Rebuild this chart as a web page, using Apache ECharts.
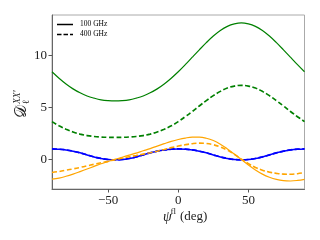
<!DOCTYPE html>
<html><head><meta charset="utf-8">
<script src="https://cdn.jsdelivr.net/npm/echarts@6/dist/echarts.min.js"></script>
<style>html,body{margin:0;padding:0;background:#fff}#c{width:320px;height:240px}</style>
</head><body><div id="c"></div>
<script>
const psi = [-90,-85,-80,-75,-70,-65,-60,-55,-50,-45,-40,-35,-30,-25,-20,-15,-10,-5,0,5,10,15,20,25,30,35,40,45,50,55,60,65,70,75,80,85,90];
const green100 = [8.4,7.78,7.23,6.76,6.38,6.08,5.87,5.71,5.63,5.6,5.63,5.71,5.87,6.08,6.38,6.76,7.23,7.78,8.4,9.08,9.8,10.51,11.2,11.83,12.36,12.76,13.0,13.1,13.0,12.76,12.36,11.83,11.2,10.51,9.8,9.08,8.4];
const green400 = [3.62,3.21,2.88,2.62,2.42,2.28,2.19,2.14,2.11,2.1,2.11,2.14,2.19,2.28,2.42,2.62,2.88,3.21,3.62,4.09,4.59,5.12,5.63,6.11,6.52,6.84,7.03,7.1,7.03,6.84,6.52,6.11,5.63,5.12,4.59,4.09,3.62];
const blue100 = [1.0,0.97,0.9,0.78,0.62,0.42,0.23,0.08,-0.02,-0.05,-0.02,0.08,0.23,0.42,0.62,0.78,0.9,0.97,1.0,0.97,0.9,0.78,0.62,0.42,0.23,0.08,-0.02,-0.05,-0.02,0.08,0.23,0.42,0.62,0.78,0.9,0.97,1.0];
const blue400 = [1.0,0.97,0.9,0.78,0.62,0.42,0.23,0.08,-0.02,-0.05,-0.02,0.08,0.23,0.42,0.62,0.78,0.9,0.97,1.0,0.97,0.9,0.78,0.62,0.42,0.23,0.08,-0.02,-0.05,-0.02,0.08,0.23,0.42,0.62,0.78,0.9,0.97,1.0];
const orange100 = [-1.9,-1.8,-1.63,-1.42,-1.18,-0.93,-0.68,-0.43,-0.22,0.0,0.2,0.4,0.6,0.82,1.03,1.27,1.5,1.72,1.9,2.04,2.12,2.12,2.02,1.8,1.45,1.0,0.5,-0.02,-0.55,-1.02,-1.42,-1.72,-1.93,-2.05,-2.08,-2.03,-1.92];
const orange400 = [-1.26,-1.17,-1.05,-0.92,-0.78,-0.63,-0.48,-0.33,-0.18,-0.03,0.1,0.24,0.37,0.5,0.63,0.78,0.95,1.12,1.27,1.4,1.5,1.55,1.52,1.4,1.18,0.88,0.48,0.02,-0.42,-0.78,-1.05,-1.23,-1.35,-1.42,-1.43,-1.38,-1.28];
const xTicks = [-50,0,50];
const yTicks = [0,5,10];
const legendNames = ['100 GHz','400 GHz'];

const SERIF = 'Liberation Serif';
function pts(arr){ return psi.map((p,i)=>[p,arr[i]]); }
function line(name, arr, color, dashed, width, z){
  return {type:'line', name:name, data:pts(arr), symbol:'none', showSymbol:false, smooth:0.4,
    silent:true, z:z, lineStyle:{color:color, width:width, type: dashed ? [5,2.5] : 'solid'}};
}
const chart = echarts.init(document.getElementById('c'), null, {renderer:'canvas'});
const fmt = v => String(v).replace('-', '\u2212');
chart.setOption({
  animation:false,
  backgroundColor:'#fff',
  grid:{left:52, right:15.5, top:15, bottom:51, show:true, borderColor:'#aaa', borderWidth:1, backgroundColor:'transparent'},
  legend:{
    data:[
      {name:legendNames[0], icon:'path://M0,0H16V1.5H0Z'},
      {name:legendNames[1], icon:'path://M0,0H4.5V1.5H0Z M6.5,0H11V1.5H6.5Z M13,0H16V1.5H13Z'}
    ],
    left:57, top:20.5, orient:'vertical', itemWidth:16, itemHeight:1.5, itemGap:2, padding:0,
    itemStyle:{color:'#000'},
    textStyle:{fontFamily:SERIF, fontSize:7.5, color:'#000', padding:[0,0,0,2]}},
  xAxis:{type:'value', min:-90, max:90,
    axisLine:{show:true, onZero:false, lineStyle:{color:'#666', width:1}},
    axisTick:{show:true, length:3.5, inside:false, customValues:xTicks, lineStyle:{color:'#555'}},
    axisLabel:{customValues:xTicks, margin:5, formatter:fmt, fontFamily:SERIF, fontSize:13, color:'#222'},
    splitLine:{show:false}},
  yAxis:{type:'value', min:-2.85, max:13.85,
    axisLine:{show:true, onZero:false, lineStyle:{color:'#666', width:1}},
    axisTick:{show:true, length:3.5, inside:false, customValues:yTicks, lineStyle:{color:'#555'}},
    axisLabel:{customValues:yTicks, margin:5, formatter:fmt, fontFamily:SERIF, fontSize:13, color:'#222'},
    splitLine:{show:false}},
  series:[
    {type:'line', name:legendNames[0], data:[], symbol:'none', itemStyle:{color:'#000'}, lineStyle:{color:'#000', width:1.5}},
    {type:'line', name:legendNames[1], data:[], symbol:'none', itemStyle:{color:'#000'}, lineStyle:{color:'#000', width:1.5, type:[4,2]}},
    line('g100', green100, '#008000', false, 1.2, 3),
    line('g400', green400, '#008000', true, 1.7, 3),
    line('b100', blue100, '#0000ff', false, 1.5, 3),
    line('b400', blue400, '#0000ff', true, 1.7, 3),
    line('o100', orange100, '#ffa500', false, 1.2, 4),
    line('o400', orange400, '#ffa500', true, 1.6, 4)
  ],
  graphic:[
    {type:'group', x:22, y:102, rotation:Math.PI/2, children:[
      {type:'text', x:-3, y:0, style:{text:'\uD835\uDC9F', font:'16px "DejaVu Serif", "DejaVu Sans", serif', fill:'#222', align:'right', verticalAlign:'middle'}},
      {type:'text', x:-2, y:-5, style:{text:'XX\u2032', font:'italic 9.5px "Liberation Serif", serif', fill:'#222', align:'left', verticalAlign:'middle'}},
      {type:'text', x:-2, y:5, style:{text:'\u2113', font:'9.5px "DejaVu Serif", serif', fill:'#222', align:'left', verticalAlign:'middle'}}
    ]},
    {type:'text', x:163, y:217, style:{text:'\u03C8', font:'italic 14px "Liberation Serif", serif', fill:'#222', align:'left', verticalAlign:'middle'}},
    {type:'text', x:170.5, y:211.5, style:{text:'fl', font:'9px "Liberation Serif", serif', fill:'#222', align:'left', verticalAlign:'middle'}},
    {type:'text', x:180, y:216.5, style:{text:'(deg)', font:'13px "Liberation Serif", serif', fill:'#222', align:'left', verticalAlign:'middle'}}
  ]
});
</script>
</body></html>
